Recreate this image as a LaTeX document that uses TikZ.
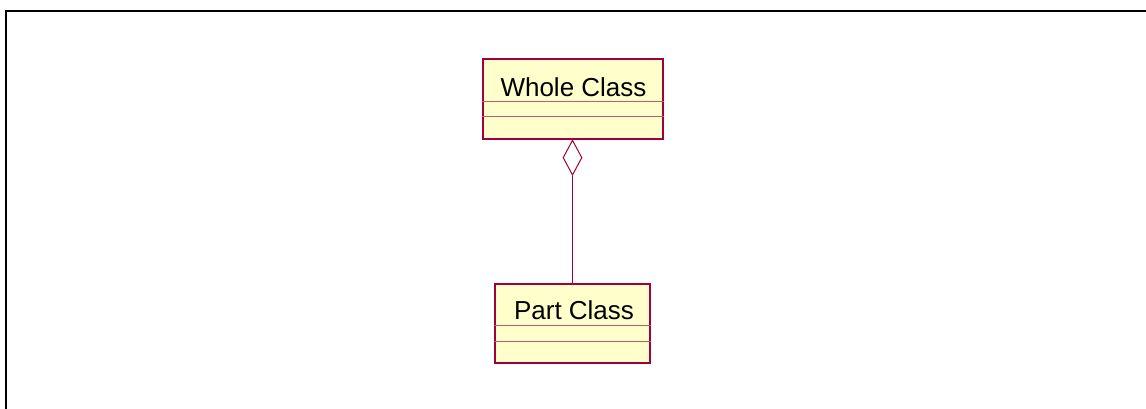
\documentclass[tikz,border=0pt]{standalone}
\usepackage{fontspec}
\setmainfont{Liberation Sans}
\usetikzlibrary{shapes.geometric,positioning}
\definecolor{umlred}{RGB}{160,0,60}
\definecolor{umlfill}{RGB}{255,255,204}
\definecolor{umlline}{RGB}{195,90,110}
\tikzset{
  classbox/.style={draw=umlred,fill=umlfill,line width=1.3pt,inner sep=0pt},
  classname/.style={font=\fontsize{26}{30}\selectfont,anchor=base,inner sep=0pt},
  divider/.style={draw=umlline,line width=1.1pt},
  aggr/.style={diamond,draw=umlred,fill=white,line width=1pt,inner sep=0pt,
    minimum width=19pt,minimum height=35pt},
  assoc/.style={draw=umlred,line width=1pt}
}
\begin{document}
\begin{tikzpicture}[x=1pt,y=-1pt]
\useasboundingbox (0,0) rectangle (1146,408);
\draw[line width=2pt] (6,420) -- (6,11) -- (1160,11);
% whole class
\node[classbox,minimum width=180pt,minimum height=80pt] (whole) at (573,99) {};
\node[classname] (wholename) at (573.5,96) {Whole Class};
\draw[divider] ([yshift=-43pt]whole.north west) -- ([yshift=-43pt]whole.north east);
\draw[divider] ([yshift=-58pt]whole.north west) -- ([yshift=-58pt]whole.north east);
% part class
\node[classbox,minimum width=155pt,minimum height=79pt] (part) at (572.5,323.5) {};
\node[classname] (partname) at (574,319) {Part Class};
\draw[divider] ([yshift=-42pt]part.north west) -- ([yshift=-42pt]part.north east);
\draw[divider] ([yshift=-58pt]part.north west) -- ([yshift=-58pt]part.north east);
% aggregation
\node[aggr,anchor=north] (dia) at ([xshift=-0.5pt]whole.south) {};
\draw[assoc] (dia.south) -- (dia.south |- part.north);
\end{tikzpicture}
\end{document}
